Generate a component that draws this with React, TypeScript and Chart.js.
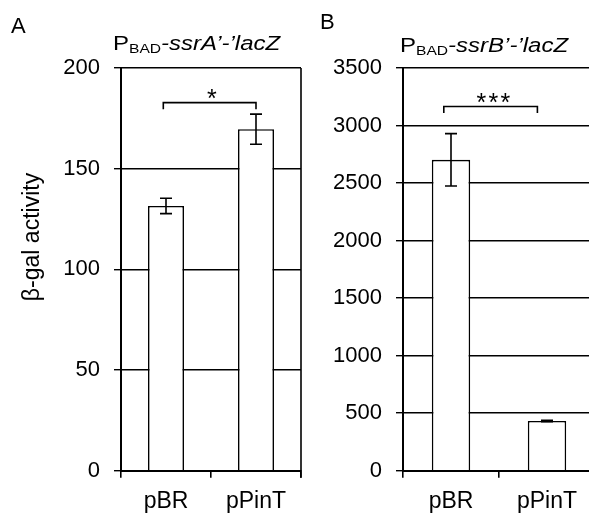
import React, { useEffect, useRef } from "react";
import { Chart, registerables } from "chart.js";

Chart.register(...registerables);

// ---------- data ----------
const categories = ["pBR", "pPinT"];
const yAxisTitle = "β-gal activity";
const panelLetters = ["A", "B"];
const geneNames = ["ssrA", "ssrB"];

const valuesA = [131.5, 169.6];
const errorsA = [3.8, 7.5];
const ticksA = [0, 50, 100, 150, 200];
const bracketEndsA = [-0.03, 1.0]; // category positions
const bracketLevelsA = [179.5, 182.8]; // foot, top
const starsA = 1;
const starPosA = [0.51, 188];

const valuesB = [2702, 432];
const errorsB = [228, 6];
const ticksB = [0, 500, 1000, 1500, 2000, 2500, 3000, 3500];
const bracketEndsB = [-0.075, 0.9];
const bracketLevelsB = [3108, 3166];
const starsB = 3;
const starPosB = [0.44, 3248];

// ---------- layout ----------
const FONT = "'Liberation Sans', Arial, Helvetica, sans-serif";
const H = 514;

type PanelCfg = {
  left: number;
  width: number;
  axisWidth: number;
  padRight: number;
  letter: string;
  letterX: number;
  letterBase: number;
  gene: string;
  titleX: number;
  titleBase: number;
  values: number[];
  errors: number[];
  ticks: number[];
  bracketEnds: number[];
  bracketLevels: number[];
  stars: number;
  starPos: number[];
  showYTitle: boolean;
  rightBorder: boolean;
};

const panels: PanelCfg[] = [
  {
    left: 0,
    width: 305,
    axisWidth: 121,
    padRight: 4,
    letter: panelLetters[0],
    letterX: 11,
    letterBase: 33,
    gene: geneNames[0],
    titleX: 113,
    titleBase: 50,
    values: valuesA,
    errors: errorsA,
    ticks: ticksA,
    bracketEnds: bracketEndsA,
    bracketLevels: bracketLevelsA,
    stars: starsA,
    starPos: starPosA,
    showYTitle: true,
    rightBorder: true,
  },
  {
    left: 310,
    width: 290,
    axisWidth: 93,
    padRight: 5,
    letter: panelLetters[1],
    letterX: 10,
    letterBase: 28.5,
    gene: geneNames[1],
    titleX: 90,
    titleBase: 51.5,
    values: valuesB,
    errors: errorsB,
    ticks: ticksB,
    bracketEnds: bracketEndsB,
    bracketLevels: bracketLevelsB,
    stars: starsB,
    starPos: starPosB,
    showYTitle: false,
    rightBorder: false,
  },
];

function Panel({ cfg }: { cfg: PanelCfg }) {
  const ref = useRef<HTMLCanvasElement>(null);

  useEffect(() => {
    const canvas = ref.current;
    if (!canvas) return;

    const overlay = {
      id: "overlay",
      afterDraw(chart: any) {
        const ctx: CanvasRenderingContext2D = chart.ctx;
        const xs = chart.scales.x;
        const ys = chart.scales.y;
        const area = chart.chartArea;
        const meta = chart.getDatasetMeta(0);
        ctx.save();
        ctx.strokeStyle = "#000";
        ctx.fillStyle = "#000";

        // error bars
        ctx.lineWidth = 1.6;
        cfg.values.forEach((v, i) => {
          const bx = meta.data[i].x;
          const yTop = ys.getPixelForValue(v + cfg.errors[i]);
          const yBot = ys.getPixelForValue(v - cfg.errors[i]);
          ctx.beginPath();
          ctx.moveTo(bx, yTop);
          ctx.lineTo(bx, yBot);
          ctx.moveTo(bx - 6, yTop);
          ctx.lineTo(bx + 6, yTop);
          ctx.moveTo(bx - 6, yBot);
          ctx.lineTo(bx + 6, yBot);
          ctx.stroke();
        });

        // bracket
        const x1 = xs.getPixelForValue(cfg.bracketEnds[0]);
        const x2 = xs.getPixelForValue(cfg.bracketEnds[1]);
        const yf = ys.getPixelForValue(cfg.bracketLevels[0]);
        const yt = ys.getPixelForValue(cfg.bracketLevels[1]);
        ctx.lineWidth = 1.6;
        ctx.beginPath();
        ctx.moveTo(x1, yf);
        ctx.lineTo(x1, yt);
        ctx.lineTo(x2, yt);
        ctx.lineTo(x2, yf);
        ctx.stroke();

        // stars
        ctx.font = `25px ${FONT}`;
        ctx.textAlign = "center";
        ctx.textBaseline = "alphabetic";
        const sx = xs.getPixelForValue(cfg.starPos[0]);
        const sy = ys.getPixelForValue(cfg.starPos[1]) + 25 * 0.575;
        for (let k = 0; k < cfg.stars; k++) {
          const off = (k - (cfg.stars - 1) / 2) * 12;
          ctx.fillText("*", sx + off, sy);
        }

        // right border (panel A)
        if (cfg.rightBorder) {
          ctx.lineWidth = 1.6;
          ctx.beginPath();
          ctx.moveTo(area.right, area.top);
          ctx.lineTo(area.right, area.bottom + 7);
          ctx.stroke();
        }

        // panel letter
        ctx.textAlign = "left";
        ctx.font = `22px ${FONT}`;
        ctx.fillText(cfg.letter, cfg.letterX, cfg.letterBase);

        // title  P_BAD-ssrX'-'lacZ
        ctx.save();
        ctx.translate(cfg.titleX, cfg.titleBase);
        ctx.scale(1.2, 1);
        ctx.font = `20px ${FONT}`;
        ctx.fillText("P", 0, 0);
        let x = ctx.measureText("P").width;
        ctx.font = `13px ${FONT}`;
        ctx.fillText("BAD", x, 3);
        x += ctx.measureText("BAD").width;
        ctx.font = `italic 20px ${FONT}`;
        ctx.fillText(`-${cfg.gene}\u2019-\u2019lacZ`, x, 0);
        ctx.restore();

        // y axis title
        if (cfg.showYTitle) {
          ctx.save();
          ctx.translate(33, 237);
          ctx.rotate(-Math.PI / 2);
          ctx.font = `23px ${FONT}`;
          ctx.textAlign = "center";
          ctx.textBaseline = "middle";
          ctx.fillText(yAxisTitle, 0, 0);
          ctx.restore();
        }
        ctx.restore();
      },
    };

    const chart = new Chart(canvas, {
      type: "bar",
      data: {
        labels: categories,
        datasets: [
          {
            data: cfg.values,
            backgroundColor: "#ffffff",
            borderColor: "#000000",
            borderWidth: 1.6,
            categoryPercentage: 1,
            barPercentage: 0.4,
          },
        ],
      },
      options: {
        responsive: false,
        animation: false,
        devicePixelRatio: 1,
        layout: { padding: { top: 68, right: cfg.padRight, left: 0, bottom: 0 } },
        plugins: {
          legend: { display: false },
          title: { display: false },
          tooltip: { enabled: false },
        },
        scales: {
          x: {
            type: "category",
            offset: true,
            grid: {
              display: true,
              offset: true,
              drawOnChartArea: false,
              drawTicks: true,
              tickLength: 7,
              color: "#000",
              lineWidth: 1.6,
            },
            border: { display: true, color: "#000", width: 2 },
            ticks: {
              color: "#000",
              font: { family: FONT, size: 23 },
              padding: 10,
              maxRotation: 0,
            },
            afterFit: (s: any) => {
              s.height = 43.3;
            },
          },
          y: {
            min: cfg.ticks[0],
            max: cfg.ticks[cfg.ticks.length - 1],
            grid: {
              color: "#000",
              lineWidth: 1.4,
              tickLength: 7,
              drawTicks: true,
            },
            border: { display: true, color: "#000", width: 2 },
            ticks: {
              color: "#000",
              font: { family: FONT, size: 22 },
              padding: 14,
              callback: (v: any) => String(v),
            },
            afterBuildTicks: (s: any) => {
              s.ticks = cfg.ticks.map((v) => ({ value: v }));
            },
            afterFit: (s: any) => {
              s.width = cfg.axisWidth;
            },
          },
        },
      },
      plugins: [overlay],
    } as any);

    return () => chart.destroy();
  }, [cfg]);

  return (
    <canvas
      ref={ref}
      width={cfg.width}
      height={H}
      style={{
        position: "absolute",
        left: cfg.left,
        top: 0,
        width: cfg.width,
        height: H,
        display: "block",
      }}
    />
  );
}

export default function App() {
  return (
    <div
      style={{
        position: "absolute",
        left: 0,
        top: 0,
        width: 589,
        height: H,
        overflow: "hidden",
        background: "#ffffff",
      }}
    >
      {panels.map((p, i) => (
        <Panel key={i} cfg={p} />
      ))}
    </div>
  );
}
